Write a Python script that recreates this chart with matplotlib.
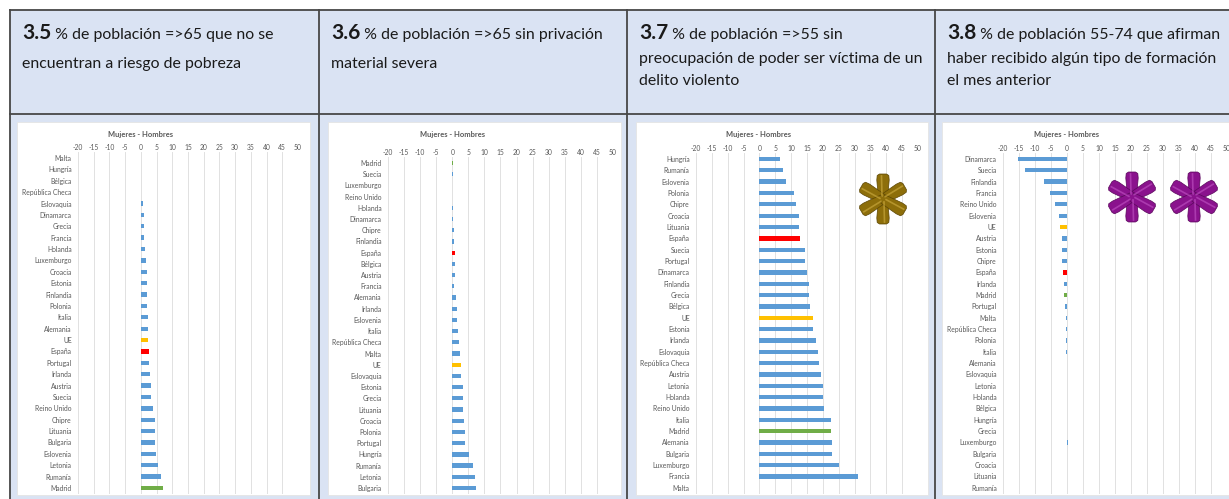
import matplotlib
matplotlib.use('Agg')
import matplotlib.pyplot as plt
from matplotlib.patches import Rectangle, Polygon, Circle
from matplotlib.lines import Line2D
import numpy as np

plt.rcParams['font.family'] = ['Lato', 'DejaVu Sans']
plt.rcParams['axes.unicode_minus'] = False

W, H = 1229, 499

# ---- datos (Mujeres - Hombres) ----
paises_35 = ['Malta', 'Hungría', 'Bélgica', 'República Checa', 'Eslovaquia', 'Dinamarca', 'Grecia',
             'Francia', 'Holanda', 'Luxemburgo', 'Croacia', 'Estonia', 'Finlandia', 'Polonia', 'Italia',
             'Alemania', 'UE', 'España', 'Portugal', 'Irlanda', 'Austria', 'Suecia', 'Reino Unido',
             'Chipre', 'Lituania', 'Bulgaria', 'Eslovenia', 'Letonia', 'Rumanía', 'Madrid']
valores_35 = [0.1, 0.0, 0.2, 0.2, 0.7, 1.0, 1.0, 1.0, 1.3, 1.6, 1.8, 2.0, 2.0, 2.0, 2.2,
              2.2, 2.3, 2.5, 2.6, 2.9, 3.2, 3.3, 4.0, 4.5, 4.5, 4.6, 4.8, 5.4, 6.3, 7.2]

paises_36 = ['Madrid', 'Suecia', 'Luxemburgo', 'Reino Unido', 'Holanda', 'Dinamarca', 'Chipre',
             'Finlandia', 'España', 'Bélgica', 'Austria', 'Francia', 'Alemania', 'Irlanda', 'Eslovenia',
             'Italia', 'República Checa', 'Malta', 'UE', 'Eslovaquia', 'Estonia', 'Grecia', 'Lituania',
             'Croacia', 'Polonia', 'Portugal', 'Hungría', 'Rumanía', 'Letonia', 'Bulgaria']
valores_36 = [0.2, 0.1, 0.0, 0.0, 0.1, 0.3, 0.6, 0.6, 0.9, 0.7, 0.7, 0.6, 1.2, 1.5, 1.5,
              1.9, 2.2, 2.4, 2.6, 2.7, 3.2, 3.3, 3.3, 3.8, 3.9, 4.1, 5.2, 6.3, 7.1, 7.5]

paises_37 = ['Hungría', 'Rumanía', 'Eslovenia', 'Polonia', 'Chipre', 'Croacia', 'Lituania', 'España',
             'Suecia', 'Portugal', 'Dinamarca', 'Finlandia', 'Grecia', 'Bélgica', 'UE', 'Estonia',
             'Irlanda', 'Eslovaquia', 'República Checa', 'Austria', 'Letonia', 'Holanda', 'Reino Unido',
             'Italia', 'Madrid', 'Alemania', 'Bulgaria', 'Luxemburgo', 'Francia', 'Malta']
valores_37 = [6.5, 7.4, 8.4, 11.0, 11.6, 12.4, 12.4, 12.8, 14.5, 14.5, 15.1, 15.6, 15.7, 15.9, 16.8,
              16.9, 17.8, 18.5, 18.8, 19.3, 19.9, 20.1, 20.3, 22.5, 22.5, 22.9, 23.0, 25.0, 31.0, 0.0]

paises_38 = ['Dinamarca', 'Suecia', 'Finlandia', 'Francia', 'Reino Unido', 'Eslovenia', 'UE', 'Austria',
             'Estonia', 'Chipre', 'España', 'Irlanda', 'Madrid', 'Portugal', 'Malta', 'República Checa',
             'Polonia', 'Italia', 'Alemania', 'Eslovaquia', 'Letonia', 'Holanda', 'Bélgica', 'Hungría',
             'Grecia', 'Luxemburgo', 'Bulgaria', 'Croacia', 'Lituania', 'Rumanía']
valores_38 = [-15.3, -13.0, -7.2, -5.3, -3.9, -2.6, -2.2, -1.7, -1.6, -1.5, -1.4, -1.0, -0.8, -0.7, -0.2,
              -0.2, -0.2, -0.2, 0.0, 0.0, 0.0, 0.0, 0.0, 0.0, 0.1, 0.2, 0.0, 0.0, 0.0, 0.0]

ticks_x = list(range(-20, 55, 5))

titulos = [('3.5', [' % de población =>65 que no se', 'encuentran a riesgo de pobreza']),
           ('3.6', [' % de población =>65 sin privación', 'material severa']),
           ('3.7', [' % de población =>55 sin', 'preocupación de poder ser víctima de un', 'delito violento']),
           ('3.8', [' % de población 55-74 que afirman', 'haber recibido algún tipo de formación',
                    'el mes anterior'])]

colores_esp = {'UE': '#ffc000', 'España': '#ff0000', 'Madrid': '#70ad47'}
AZUL = '#5b9bd5'
FONDO = '#dae3f3'
GRIS_TXT = '#595959'


def frac(x, y):
    return x / W, 1 - y / H


def caja(x0, y0, x1, y1):
    return [x0 / W, 1 - y1 / H, (x1 - x0) / W, (y1 - y0) / H]


fig = plt.figure(figsize=(W / 100, H / 100), dpi=100)
fig.patch.set_facecolor('white')

# fondo de la tabla
fig.add_artist(Rectangle(frac(10, 499), (W - 10) / W, 489 / H, transform=fig.transFigure,
                         facecolor=FONDO, edgecolor='none', zorder=-3))

# paneles blancos de los graficos
for x0, x1 in [(17, 310), (328, 621), (636, 928), (942, 1240)]:
    fig.add_artist(Rectangle(frac(x0, 495), (x1 - x0) / W, (495 - 122) / H, transform=fig.transFigure,
                             facecolor='white', edgecolor='#e4e4e4', linewidth=0.6, zorder=-2))

# lineas de la tabla
col_x = [10, 319, 627, 935]
for x in col_x:
    fig.add_artist(Line2D([x / W, x / W], [0, 1 - 10 / H], transform=fig.transFigure,
                          color='#474747', linewidth=1.3, zorder=-1))
for y in [10, 114]:
    fig.add_artist(Line2D([10 / W, 1], [1 - y / H, 1 - y / H], transform=fig.transFigure,
                          color='#474747', linewidth=1.3, zorder=-1))

# textos de cabecera
renderer = fig.canvas.get_renderer()
base_lineas = [[39, 68], [39, 68], [39, 63, 85], [39, 63, 85]]
for i, (num, lineas) in enumerate(titulos):
    x0 = col_x[i] + 12
    t = fig.text(*frac(x0, base_lineas[i][0]), num, fontsize=15, fontweight='bold',
                 va='baseline', ha='left', color='#1a1a1a')
    bb = t.get_window_extent(renderer)
    fig.text(bb.x1 / W, 1 - base_lineas[i][0] / H, lineas[0], fontsize=11.4,
             va='baseline', ha='left', color='#1a1a1a')
    for j, linea in enumerate(lineas[1:]):
        fig.text(*frac(x0, base_lineas[i][j + 1]), linea, fontsize=11.4,
                 va='baseline', ha='left', color='#1a1a1a')

# graficos
paneles = [(paises_35, valores_35, (78, 152.3, 298, 493.7), 141),
           (paises_36, valores_36, (388, 157.4, 613, 493.6), 453),
           (paises_37, valores_37, (696, 153.3, 918, 493.5), 759),
           (paises_38, valores_38, (1003, 153.3, 1227, 493.5), 1067)]

for paises, valores, (l, t, r, b), xt in paneles:
    ax = fig.add_axes(caja(l, t, r, b))
    ax.set_facecolor('none')
    colores = [colores_esp.get(p, AZUL) for p in paises]
    ax.barh(range(len(paises)), valores, height=0.38, color=colores)
    ax.set_xlim(-20, 50)
    ax.set_ylim(len(paises) - 0.5, -0.5)
    ax.set_xticks(ticks_x)
    ax.set_yticks(range(len(paises)))
    ax.set_yticklabels(paises)
    ax.xaxis.tick_top()
    ax.tick_params(axis='x', length=0, pad=1.2, labelsize=4.9, labelcolor=GRIS_TXT)
    ax.tick_params(axis='y', length=0, pad=4.5, labelsize=4.9, labelcolor=GRIS_TXT)
    ax.grid(axis='x', color='#e1e1e1', linewidth=0.7)
    ax.set_axisbelow(True)
    for s in ax.spines.values():
        s.set_visible(False)
    fig.text(*frac(xt, 135), 'Mujeres - Hombres', fontsize=5.4, fontweight='bold',
             color=GRIS_TXT, ha='center', va='center')


def asterisco(cx, cy, L, base, luz, borde):
    cy = H - cy
    angulos = (90, 30, 150, 270, 210, 330)
    for ang in angulos:
        a = np.radians(ang)
        u = np.array([np.cos(a), np.sin(a)])
        v = np.array([-u[1], u[0]])
        loc = [(0, -4.6), (L - 6, -6.2), (L - 1.5, -5.8), (L, -3.5), (L, 3.5), (L - 1.5, 5.8),
               (L - 6, 6.2), (0, 4.6)]
        pts = [((cx + p * u[0] + q * v[0]) / W, (cy + p * u[1] + q * v[1]) / H) for p, q in loc]
        fig.add_artist(Polygon(pts, closed=True, transform=fig.transFigure, facecolor=base,
                               edgecolor=borde, linewidth=0.5, zorder=5))
    fig.add_artist(Circle((cx / W, cy / H), 5.5 / W, transform=fig.transFigure, facecolor=base,
                          edgecolor='none', zorder=5))
    for ang in angulos:
        a = np.radians(ang)
        u = np.array([np.cos(a), np.sin(a)])
        v = np.array([-u[1], u[0]])
        p0 = (cx + 3 * u[0] + 1.0 * v[0], cy + 3 * u[1] + 1.0 * v[1])
        p1 = (cx + (L - 2) * u[0] + 1.5 * v[0], cy + (L - 2) * u[1] + 1.5 * v[1])
        fig.add_artist(Line2D([p0[0] / W, p1[0] / W], [p0[1] / H, p1[1] / H], transform=fig.transFigure,
                              color=luz, linewidth=1.2, alpha=0.55, zorder=6))


asterisco(883, 199, 25, '#8d6e0a', '#d6b448', '#5c4604')
asterisco(1132, 197, 25, '#8a128d', '#c75bcb', '#5a085c')
asterisco(1194, 197, 25, '#8a128d', '#c75bcb', '#5a085c')

fig.savefig('out.png', dpi=100)
